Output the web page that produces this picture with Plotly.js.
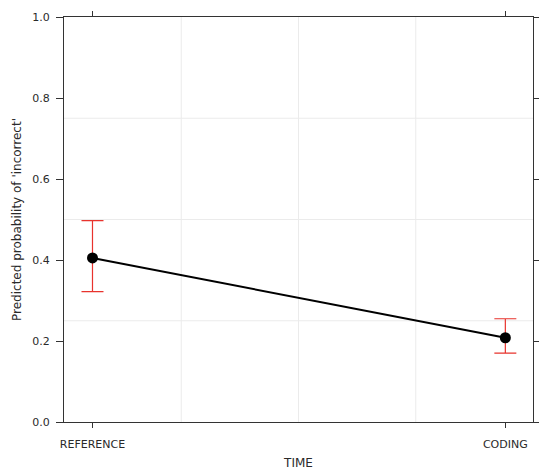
<!DOCTYPE html>
<html>
<head>
<meta charset="utf-8">
<script src="https://cdn.plot.ly/plotly-3.0.1.min.js"></script>
<style>html,body{margin:0;padding:0;background:#fff;}#chart{width:539px;height:470px;}</style>
</head>
<body>
<div id="chart"></div>
<script>
// Data
const categories = ["REFERENCE", "CODING"];
const categoryPos = [1, 2];
const predicted = [0.405, 0.208];
const upper = [0.497, 0.255];
const lower = [0.322, 0.170];
const yTickVals = [0, 0.2, 0.4, 0.6, 0.8, 1.0];
const yTickText = ["0.0", "0.2", "0.4", "0.6", "0.8", "1.0"];

const errPlus = predicted.map((v, i) => upper[i] - v);
const errMinus = predicted.map((v, i) => v - lower[i]);

const gridFractions = [0.25, 0.5, 0.75];
const gridColor = "#ebebeb";
const shapes = [];
gridFractions.forEach(f => {
  shapes.push({type: "line", xref: "x domain", yref: "paper", x0: f, x1: f, y0: 0, y1: 1, line: {color: gridColor, width: 1}, layer: "below"});
  shapes.push({type: "line", xref: "paper", yref: "y", x0: 0, x1: 1, y0: f, y1: f, line: {color: gridColor, width: 1}, layer: "below"});
});

const trace = {
  x: categoryPos,
  y: predicted,
  type: "scatter",
  mode: "lines+markers",
  line: {color: "#000", width: 2},
  marker: {color: "#000", size: 11},
  error_y: {type: "data", symmetric: false, array: errPlus, arrayminus: errMinus, color: "#e8332d", thickness: 1.2, width: 11},
  hoverinfo: "skip"
};

const fam = "DejaVu Sans, Arial, sans-serif";
const txt = "#2a2a2a";

const layout = {
  width: 539,
  height: 470,
  margin: {l: 64, r: 6, t: 17, b: 48},
  paper_bgcolor: "#fff",
  plot_bgcolor: "#fff",
  showlegend: false,
  shapes: shapes,
  xaxis: {
    range: [0.931, 2.067],
    tickvals: categoryPos,
    ticktext: categories,
    showgrid: false,
    zeroline: false,
    showline: true,
    linecolor: "#333",
    linewidth: 1,
    mirror: "allticks",
    ticks: "outside",
    ticklen: 5,
    tickcolor: "#333",
    tickfont: {family: fam, size: 11, color: txt},
    ticklabelstandoff: 7,
    title: {text: "TIME", font: {family: fam, size: 12, color: txt}, standoff: 10}
  },
  yaxis: {
    range: [0, 1],
    tickvals: yTickVals,
    ticktext: yTickText,
    showgrid: false,
    zeroline: false,
    showline: true,
    linecolor: "#333",
    linewidth: 1,
    mirror: "allticks",
    ticks: "outside",
    ticklen: 7,
    tickcolor: "#333",
    tickfont: {family: fam, size: 11, color: txt},
    ticklabelstandoff: 4,
    title: {text: "Predicted probability of 'incorrect'", font: {family: fam, size: 12, color: txt}, standoff: 8}
  }
};

Plotly.newPlot("chart", [trace], layout, {displayModeBar: false, staticPlot: true});
</script>
</body>
</html>
